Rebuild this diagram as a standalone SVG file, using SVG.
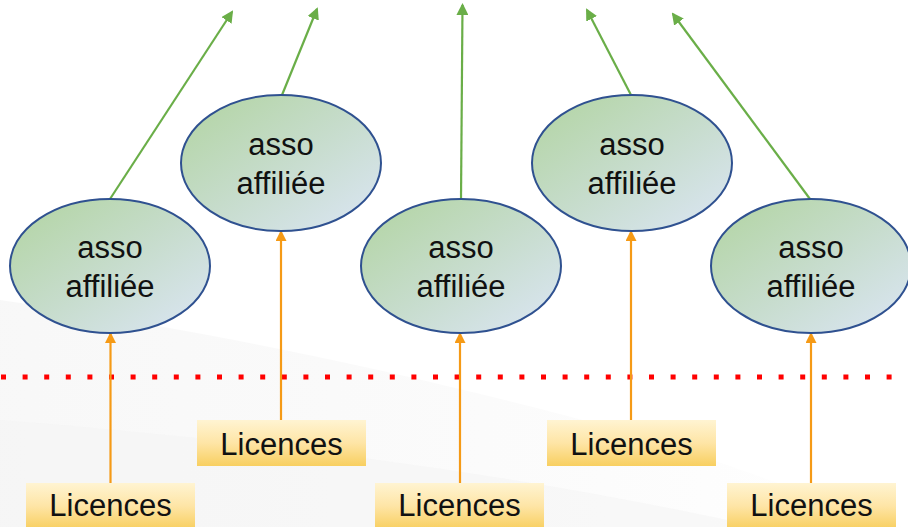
<svg xmlns="http://www.w3.org/2000/svg" width="908" height="527" viewBox="0 0 908 527">
<defs>
<linearGradient id="ellFill" x1="0" y1="0" x2="1" y2="1">
<stop offset="0" stop-color="#b1d4a0"/>
<stop offset="0.5" stop-color="#c6dccb"/>
<stop offset="1" stop-color="#dce6f6"/>
</linearGradient>
<linearGradient id="boxFill" x1="0" y1="0" x2="0" y2="1">
<stop offset="0" stop-color="#fff4d2"/>
<stop offset="0.5" stop-color="#fee5a6"/>
<stop offset="1" stop-color="#f8cf60"/>
</linearGradient>
<linearGradient id="bgSwoosh" x1="0" y1="0" x2="1" y2="0">
<stop offset="0" stop-color="#f3f3f3"/>
<stop offset="0.6" stop-color="#f9f9f9"/>
<stop offset="1" stop-color="#ffffff"/>
</linearGradient>
<marker id="greenHead" markerWidth="12" markerHeight="12" viewBox="0 0 12 12" refX="10" refY="6" orient="auto" markerUnits="userSpaceOnUse">
<path d="M0,0 L12,6 L0,12 Z" fill="#6aae48"/>
</marker>
<marker id="orangeHead" markerWidth="11" markerHeight="11" viewBox="0 0 11 11" refX="9" refY="5.5" orient="auto" markerUnits="userSpaceOnUse">
<path d="M0,0 L11,5.5 L0,11 Z" fill="#f59a16"/>
</marker>
</defs>
<style>
.ell{fill:url(#ellFill);stroke:#2f5190;stroke-width:2}
.box{fill:url(#boxFill)}
.t{font-family:"Liberation Sans",Arial,sans-serif;font-size:31px;fill:#111;text-anchor:middle}
.g{stroke:#6aae48;stroke-width:2.2;fill:none;marker-end:url(#greenHead)}
.o{stroke:#f59a16;stroke-width:2.2;fill:none;marker-end:url(#orangeHead)}
</style>
<rect width="908" height="527" fill="#ffffff"/>
<path d="M0,300 C200,330 400,370 620,430 C720,460 820,500 908,527 L0,527 Z" fill="url(#bgSwoosh)" opacity="0.6"/>
<path d="M0,420 C250,440 500,470 760,527 L0,527 Z" fill="#f4f4f4" opacity="0.5"/>
<line x1="1" y1="377" x2="908" y2="377" stroke="#ff0000" stroke-width="5" stroke-dasharray="5 16.6"/>
<g id="connectors">
<line class="g" x1="110" y1="199" x2="232" y2="12"/>
<line class="g" x1="282" y1="95" x2="317" y2="9"/>
<line class="g" x1="461" y1="199" x2="462.5" y2="5"/>
<line class="g" x1="631" y1="95" x2="587" y2="10"/>
<line class="g" x1="810" y1="199" x2="673" y2="14"/>
<line class="o" x1="110.5" y1="483" x2="110.5" y2="334"/>
<line class="o" x1="281" y1="420" x2="281" y2="232"/>
<line class="o" x1="460" y1="483" x2="460" y2="334"/>
<line class="o" x1="631" y1="420" x2="631" y2="232"/>
<line class="o" x1="811" y1="483" x2="811" y2="334"/>
</g>
<g id="asso1"><ellipse class="ell" cx="110" cy="266" rx="100" ry="67"/><text class="t" x="110" y="258">asso</text><text class="t" x="110" y="297">affiliée</text></g>
<g id="asso2"><ellipse class="ell" cx="281" cy="163" rx="100" ry="68"/><text class="t" x="281" y="155">asso</text><text class="t" x="281" y="194">affiliée</text></g>
<g id="asso3"><ellipse class="ell" cx="461" cy="266" rx="100" ry="67"/><text class="t" x="461" y="258">asso</text><text class="t" x="461" y="297">affiliée</text></g>
<g id="asso4"><ellipse class="ell" cx="632" cy="163" rx="100" ry="68"/><text class="t" x="632" y="155">asso</text><text class="t" x="632" y="194">affiliée</text></g>
<g id="asso5"><ellipse class="ell" cx="811" cy="266" rx="100" ry="67"/><text class="t" x="811" y="258">asso</text><text class="t" x="811" y="297">affiliée</text></g>
<g id="lic1"><rect class="box" x="26" y="483" width="169" height="46"/><text class="t" x="110.5" y="516">Licences</text></g>
<g id="lic2"><rect class="box" x="197" y="420" width="169" height="46"/><text class="t" x="281.5" y="455">Licences</text></g>
<g id="lic3"><rect class="box" x="375" y="483" width="169" height="46"/><text class="t" x="459.5" y="516">Licences</text></g>
<g id="lic4"><rect class="box" x="547" y="420" width="169" height="46"/><text class="t" x="631.5" y="455">Licences</text></g>
<g id="lic5"><rect class="box" x="727" y="483" width="169" height="46"/><text class="t" x="811.5" y="516">Licences</text></g>
</svg>
